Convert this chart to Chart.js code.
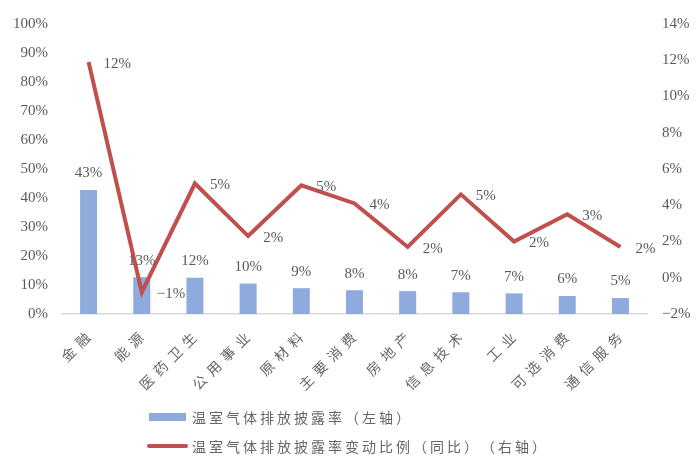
<!DOCTYPE html>
<html>
<head>
<meta charset="utf-8">
<script src="https://cdn.jsdelivr.net/npm/chart.js@4"></script>
<style>
  html,body{margin:0;padding:0;background:#fff;}
  #wrap{position:relative;width:700px;height:469px;}
  canvas{display:block;}
  #legend{position:absolute;left:0;top:0;font-family:"Noto Sans CJK SC",sans-serif;font-size:14px;color:#666;letter-spacing:3px;text-spacing-trim:space-all;white-space:nowrap;}
  .item{position:absolute;left:147px;display:flex;align-items:center;height:20px;}
  .sw{display:inline-block;}
</style>
</head>
<body>
<div id="wrap">
<canvas id="c" width="700" height="469"></canvas>
<div id="legend"></div>
</div>
<script>
const categories = ["金融","能源","医药卫生","公用事业","原材料","主要消费","房地产","信息技术","工业","可选消费","通信服务"];
const disclosureRate = [42.8, 12.7, 12.5, 10.5, 8.9, 8.2, 7.9, 7.5, 7.1, 6.2, 5.5];
const changeRate = [11.9, -0.8, 5.2, 2.3, 5.1, 4.1, 1.7, 4.6, 2.0, 3.5, 1.7];
const barLabels = ["43%","13%","12%","10%","9%","8%","8%","7%","7%","6%","5%"];
const lineLabels = ["12%","\u22121%","5%","2%","5%","4%","2%","5%","2%","3%","2%"];
const seriesNames = ["温室气体排放披露率（左轴）","温室气体排放披露率变动比例（同比）（右轴）"];
const leftTicks = [0,10,20,30,40,50,60,70,80,90,100];
const rightTicks = [-2,0,2,4,6,8,10,12,14];

const barColor = "#8faadc";
const lineColor = "#c0504d";
const textColor = "#595959";
const numFont = "'Liberation Serif', 'DejaVu Serif', serif";
const cjkFont = "'Noto Sans CJK SC', sans-serif";

const fmt = v => (v < 0 ? "\u2212" + Math.abs(v) : String(v)) + "%";

const labelPlugin = {
  id: "valueLabels",
  afterDatasetsDraw(chart) {
    const ctx = chart.ctx;
    ctx.save();
    ctx.font = "15px " + numFont;
    ctx.fillStyle = textColor;
    const barMeta = chart.getDatasetMeta(1);
    ctx.textAlign = "center";
    ctx.textBaseline = "bottom";
    barMeta.data.forEach((el, i) => {
      ctx.fillText(barLabels[i], el.x, el.y - 9);
    });
    const lineMeta = chart.getDatasetMeta(0);
    ctx.textAlign = "left";
    ctx.textBaseline = "middle";
    lineMeta.data.forEach((el, i) => {
      ctx.fillText(lineLabels[i], el.x + 15, el.y + 2);
    });
    ctx.restore();
  }
};

// x category labels, rotated 45deg, with wide letter spacing (positions from the x scale)
const xLabelPlugin = {
  id: "xLabels",
  afterDraw(chart) {
    const ctx = chart.ctx;
    const xs = chart.scales.x;
    const size = 14, spacing = 6;
    ctx.save();
    ctx.font = size + "px " + cjkFont;
    ctx.fillStyle = "#666";
    ctx.textBaseline = "middle";
    ctx.textAlign = "left";
    categories.forEach((lab, i) => {
      const px = xs.getPixelForTick(i);
      const chars = Array.from(lab);
      ctx.save();
      ctx.translate(px - 1, xs.top + 21);
      ctx.rotate(-Math.PI / 4);
      const widths = chars.map(c => ctx.measureText(c).width);
      const total = widths.reduce((a, b) => a + b, 0) + spacing * (chars.length - 1);
      let pos = -total;
      chars.forEach((c, k) => {
        ctx.fillText(c, pos, 0);
        pos += widths[k] + spacing;
      });
      ctx.restore();
    });
    ctx.restore();
  }
};

new Chart(document.getElementById("c"), {
  data: {
    labels: categories,
    datasets: [
      {
        type: "line",
        label: seriesNames[1],
        data: changeRate,
        yAxisID: "y1",
        borderColor: lineColor,
        backgroundColor: lineColor,
        borderWidth: 4,
        pointRadius: 0,
        tension: 0,
        order: 0
      },
      {
        type: "bar",
        label: seriesNames[0],
        data: disclosureRate,
        yAxisID: "y",
        backgroundColor: barColor,
        barPercentage: 0.32,
        categoryPercentage: 1.0,
        order: 1
      }
    ]
  },
  options: {
    responsive: false,
    animation: false,
    devicePixelRatio: 1,
    layout: { padding: { top: 22, left: 0, right: 0, bottom: 0 } },
    plugins: {
      legend: { display: false },
      tooltip: { enabled: false }
    },
    scales: {
      x: {
        grid: { display: false, drawTicks: false },
        border: { display: true, color: "#d9d9d9", width: 1.5 },
        ticks: { display: false },
        afterFit(s) { s.height = 155; }
      },
      y: {
        position: "left",
        min: 0, max: 100,
        grid: { display: false, drawTicks: false },
        border: { display: false },
        afterBuildTicks(s) { s.ticks = leftTicks.map(v => ({ value: v })); },
        ticks: {
          padding: 14,
          color: textColor,
          font: { family: numFont, size: 15 },
          callback: v => fmt(v)
        },
        afterFit(s) { s.width = 62; }
      },
      y1: {
        position: "right",
        min: -2, max: 14,
        grid: { display: false, drawTicks: false },
        border: { display: false },
        afterBuildTicks(s) { s.ticks = rightTicks.map(v => ({ value: v })); },
        ticks: {
          padding: 15,
          color: textColor,
          font: { family: numFont, size: 15 },
          callback: v => fmt(v)
        },
        afterFit(s) { s.width = 53; }
      }
    }
  },
  plugins: [labelPlugin, xLabelPlugin]
});

const legend = document.getElementById("legend");
legend.innerHTML =
  '<div class="item" style="top:407px"><span class="sw" style="width:37px;height:8px;margin-left:2px;margin-right:6px;background:' + barColor + '"></span>' + seriesNames[0] + '</div>' +
  '<div class="item" style="top:436px"><span class="sw" style="width:41px;height:4px;border-radius:2px;margin-right:4px;background:' + lineColor + '"></span>' + seriesNames[1] + '</div>';
</script>
</body>
</html>
